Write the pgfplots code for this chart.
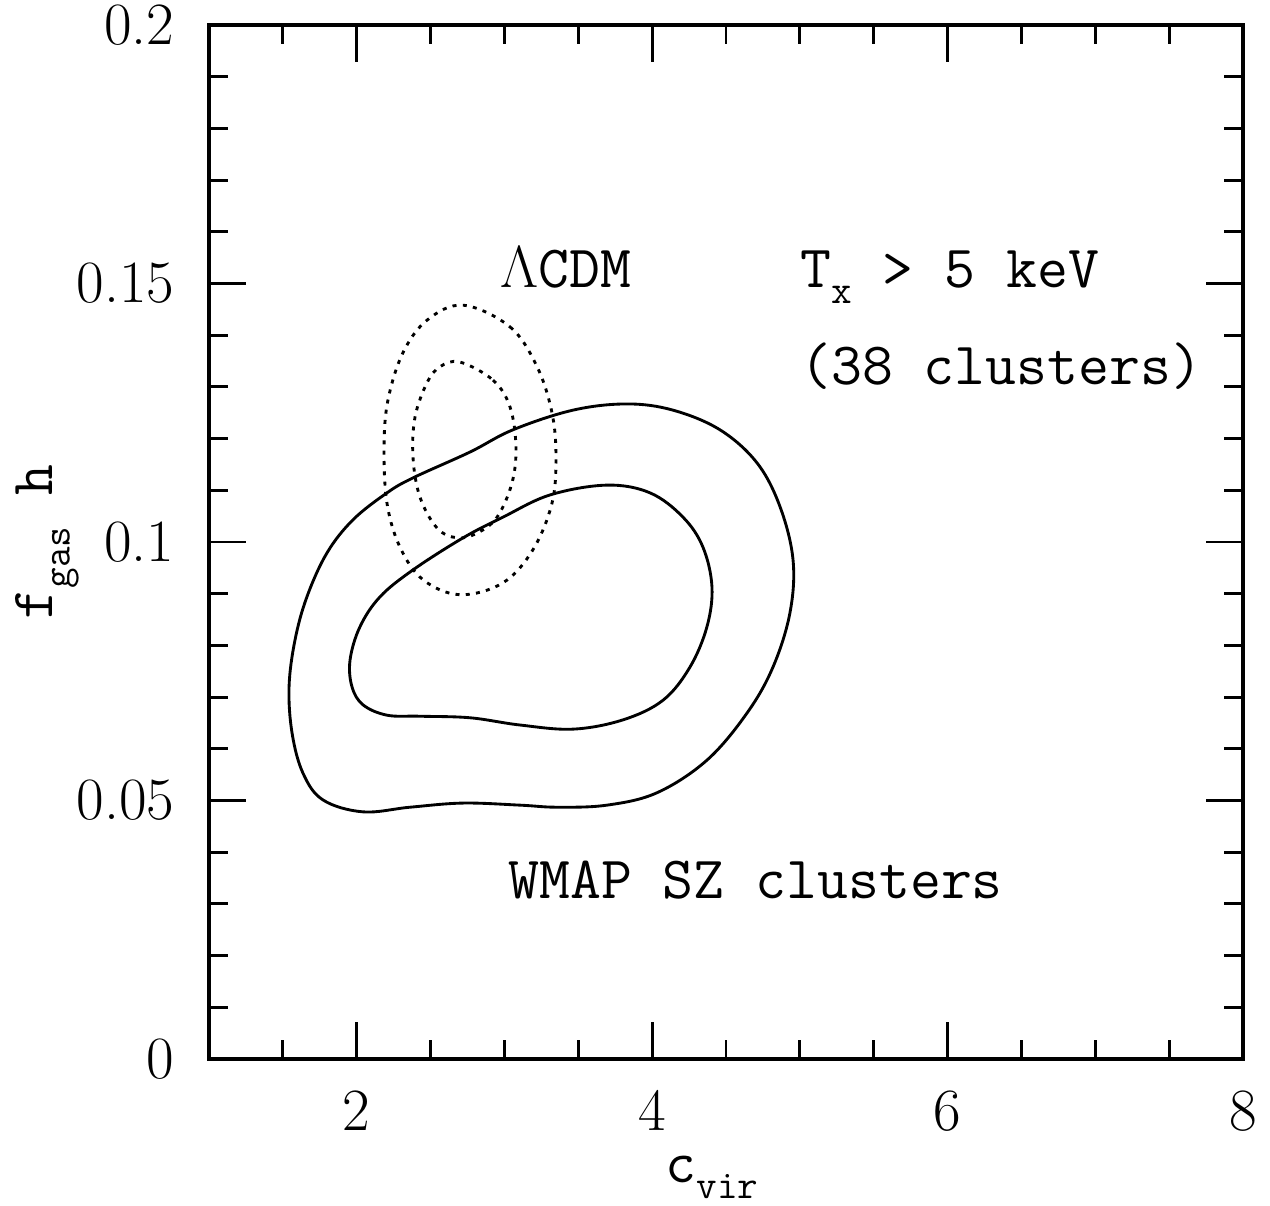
\documentclass[border=0pt]{standalone}
\usepackage{pgfplots}
\pgfplotsset{compat=1.18}
\newcommand{\sub}[1]{\raisebox{-5.8pt}{\fontsize{14}{16}\selectfont\ttfamily #1}}
\begin{document}
\fontsize{20}{24}\selectfont
\begin{tikzpicture}
\begin{axis}[
 name=ax,
 scale only axis, width=361.9pt, height=361.9pt,
 xmin=1, xmax=8, ymin=0, ymax=0.2,
 axis line style={line width=1.2pt},
 every tick/.style={black, line width=1pt},
 tick align=inside,
 major tick length=12.95pt, minor tick length=6.65pt,
 scaled x ticks=false, scaled y ticks=false,
 xtick={2,4,6,8}, xticklabels={2,4,6,8},
 minor xtick={1.5,2.5,3,3.5,4.5,5,5.5,6.5,7,7.5},
 ytick={0,0.05,0.1,0.15,0.2}, yticklabels={0,0.05,0.1,0.15,0.2},
 minor ytick={0.01,0.02,0.03,0.04,0.06,0.07,0.08,0.09,0.11,0.12,0.13,0.14,0.16,0.17,0.18,0.19},
 tick label style={font=\fontsize{21}{25}\selectfont, inner sep=0pt},
 xticklabel style={anchor=north, yshift=-10.85pt},
 yticklabel style={anchor=east, xshift=-11.9pt},
 xlabel={c\sub{vir}},
 ylabel={f\sub{gas} h},
 label style={font=\fontsize{21}{25}\selectfont\ttfamily, inner sep=0pt},
 xlabel style={at={(axis description cs:0.4865,-0.119)}, anchor=base},
 ylabel style={at={(axis description cs:-0.1509,0.5)}, anchor=base},
 clip=false,
]
% outer solid contour
\addplot[black, line width=1pt, smooth cycle, tension=0.6] coordinates {
(1.542,0.0720)(1.582,0.0810)(1.663,0.0894)(1.799,0.0979)(1.975,0.1043)(2.205,0.1095)(2.381,0.1124)(2.767,0.1174)(3.058,0.1217)(3.464,0.1255)(3.830,0.1267)(4.141,0.1255)(4.459,0.1217)(4.710,0.1153)(4.866,0.1068)(4.954,0.0965)(4.933,0.0863)(4.818,0.0758)(4.642,0.0669)(4.371,0.0578)(4.033,0.0515)(3.694,0.0491)(3.356,0.0487)(3.105,0.0491)(2.720,0.0495)(2.361,0.0487)(2.043,0.0478)(1.772,0.0501)(1.636,0.0553)(1.562,0.0631)
};
% inner solid contour
\addplot[black, line width=1pt, smooth cycle, tension=0.6] coordinates {
(1.955,0.0772)(2.022,0.0836)(2.158,0.0894)(2.381,0.0946)(2.720,0.1008)(2.990,0.1048)(3.309,0.1091)(3.694,0.1110)(3.986,0.1095)(4.209,0.1048)(4.344,0.0990)(4.405,0.0913)(4.371,0.0836)(4.256,0.0758)(4.074,0.0694)(3.803,0.0656)(3.464,0.0638)(3.105,0.0646)(2.767,0.0660)(2.428,0.0663)(2.205,0.0665)(2.043,0.0685)(1.968,0.0720)
};
% outer dotted (LCDM)
\addplot[black, line width=1pt, dash pattern=on 1.4pt off 2.2pt, smooth cycle, tension=0.6] coordinates {
(2.720,0.1458)(3.038,0.1416)(3.221,0.1339)(3.322,0.1250)(3.349,0.1164)(3.322,0.1075)(3.193,0.0985)(2.990,0.0921)(2.699,0.0898)(2.449,0.0927)(2.293,0.0990)(2.205,0.1075)(2.185,0.1184)(2.212,0.1275)(2.313,0.1366)(2.476,0.1429)
};
% inner dotted (LCDM)
\addplot[black, line width=1pt, dash pattern=on 1.4pt off 2.2pt, smooth cycle, tension=0.6] coordinates {
(2.699,0.1348)(2.923,0.1313)(3.038,0.1261)(3.078,0.1184)(3.051,0.1114)(2.950,0.1048)(2.814,0.1017)(2.679,0.1008)(2.544,0.1027)(2.428,0.1087)(2.381,0.1164)(2.395,0.1242)(2.476,0.1308)(2.564,0.1339)
};
\node[anchor=base west, inner sep=0pt, font=\fontsize{21}{25}\selectfont\ttfamily] at (axis cs:2.97,0.1493) {$\Lambda$CDM};
\node[anchor=base west, inner sep=0pt, font=\fontsize{21}{25}\selectfont\ttfamily] at (axis cs:5.0,0.1493) {T\sub{x} > 5 keV};
\node[anchor=base west, inner sep=0pt, font=\fontsize{21}{25}\selectfont\ttfamily] at (axis cs:5.0,0.1304) {(38 clusters)};
\node[anchor=base west, inner sep=0pt, font=\fontsize{21}{25}\selectfont\ttfamily] at (axis cs:3.024,0.03095) {WMAP SZ clusters};
\end{axis}
\pgfresetboundingbox
\path ([shift={(-73.15pt,-51.45pt)}]ax.south west) rectangle ([shift={(9.45pt,8.75pt)}]ax.north east);
\end{tikzpicture}
\end{document}
